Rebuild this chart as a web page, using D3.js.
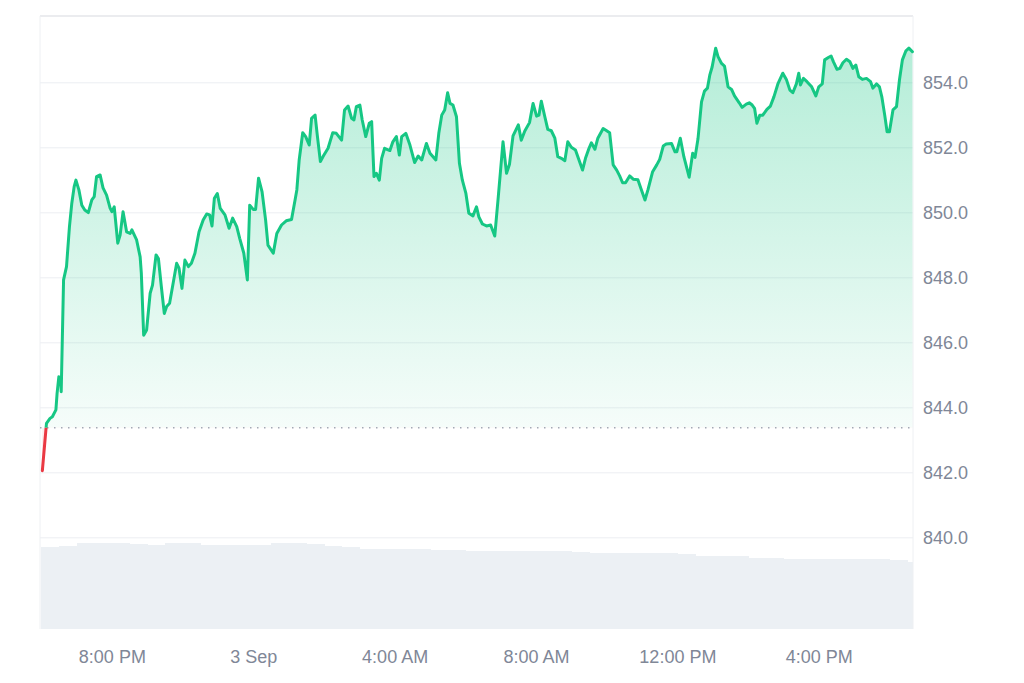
<!DOCTYPE html>
<html>
<head>
<meta charset="utf-8">
<script src="https://cdn.jsdelivr.net/npm/d3@7"></script>
<style>
  html, body { margin: 0; padding: 0; background: #ffffff; }
  svg { display: block; }
  text { font-family: "Liberation Sans", Arial, sans-serif; }
</style>
</head>
<body>
<svg id="chart" width="1024" height="683"></svg>
<script>
// ---------- DATA ----------
// minutes after 18:00 on 2 Sep
const priceMinutes = [2,9,15,19,25,27,30,33,34,38,43,48,52,56,59,64,69,74,80,86,90,94,100,105,111,117,120,124,130,134,139,145,151,154,162,168,170,174,179,185,189,195,199,204,209,213,218,224,230,234,239,244,250,255,261,268,275,281,286,290,294,299,304,312,319,325,332,337,344,350,354,360,364,369,375,381,385,394,400,408,416,425,431,434,438,444,449,455,459,465,469,474,479,487,495,501,510,515,521,527,531,535,541,545,551,557,561,565,569,574,578,583,592,597,603,608,612,619,626,634,640,646,654,660,670,675,680,685,690,694,699,705,710,715,721,726,733,739,743,749,756,763,770,776,784,790,795,801,810,815,821,829,835,841,845,849,855,860,866,872,877,883,889,894,900,907,913,919,924,930,934,940,945,954,960,965,971,977,982,987,992,999,1005,1013,1019,1025,1030,1038,1045,1050,1056,1061,1070,1076,1079,1085,1091,1100,1106,1110,1115,1121,1126,1131,1135,1139,1145,1149,1155,1160,1166,1172,1177,1185,1190,1197,1202,1207,1211,1215,1220,1225,1232,1238,1244,1251,1259,1265,1271,1276,1282,1286,1289,1294,1300,1308,1315,1320,1326,1330,1337,1341,1345,1351,1356,1361,1367,1373,1378,1383,1388,1394,1401,1408,1412,1418,1423,1427,1432,1436,1440,1446,1452,1457,1462,1468,1473,1479];
const prices = [842.05,843.51,843.66,843.71,843.92,844.43,844.94,844.89,844.48,847.92,848.33,849.56,850.28,850.79,850.99,850.69,850.22,850.07,849.99,850.38,850.48,851.10,851.15,850.75,850.53,850.13,850.02,850.17,849.05,849.30,850.02,849.40,849.35,849.46,849.15,848.63,848.13,846.22,846.38,847.51,847.76,848.69,848.58,847.71,846.89,847.10,847.20,847.82,848.43,848.28,847.66,848.53,848.33,848.43,848.74,849.40,849.76,849.95,849.92,849.58,850.43,850.58,850.12,849.92,849.51,849.82,849.56,849.20,848.74,847.92,850.22,850.09,850.09,851.05,850.63,849.76,848.99,848.74,849.35,849.61,849.74,849.78,850.38,850.69,851.61,852.45,852.33,852.07,852.89,852.99,852.33,851.56,851.73,851.97,852.45,852.43,852.22,853.15,853.27,852.89,852.84,853.25,853.30,852.84,852.33,852.74,852.79,851.10,851.20,850.99,851.66,851.97,851.90,852.17,852.33,851.76,852.33,852.43,852.07,851.53,851.73,851.61,852.12,851.82,851.61,852.43,852.99,853.15,853.68,853.35,853.30,852.94,851.51,850.99,850.58,849.97,849.89,850.17,849.86,849.64,849.58,849.61,849.27,850.48,852.17,851.20,851.48,852.35,852.69,852.22,852.50,852.76,853.35,852.96,852.99,853.42,852.94,852.55,852.51,852.28,851.71,851.66,851.59,852.17,852.00,851.92,851.61,851.30,851.66,851.97,852.14,851.94,852.28,852.58,852.51,852.45,851.46,851.30,851.12,850.91,850.91,851.12,851.02,851.00,850.69,850.38,850.69,851.25,851.46,851.63,852.04,852.10,852.12,851.86,851.86,852.28,851.71,851.08,851.82,851.69,852.26,853.40,853.73,853.82,854.22,854.47,855.05,854.79,854.58,854.50,853.86,853.78,853.58,853.37,853.23,853.33,853.37,853.30,853.20,852.74,852.99,852.99,853.17,853.27,853.56,853.97,854.28,854.09,853.76,853.68,853.95,854.28,853.92,854.12,854.02,853.86,853.58,853.86,853.95,854.69,854.77,854.81,854.63,854.40,854.43,854.60,854.71,854.63,854.43,854.53,854.17,854.09,854.12,854.02,853.82,853.95,853.86,853.56,852.99,852.48,852.48,853.15,853.25,854.07,854.69,854.97,855.05,854.94];
const openPrice = 843.37;

// volume, one value per 30 minutes starting 18:00 on 2 Sep (millions)
const volumeValues = [820,833,857,857,857,855,840,860,860,840,840,840,840,857,857,850,830,823,805,800,800,800,790,790,785,780,780,780,780,780,770,757,757,757,757,757,755,733,733,730,713,710,700,700,700,700,700,700,690,670];

const xTickMinutes = [120, 360, 600, 840, 1080, 1320];
const xTickLabels = ["8:00 PM", "3 Sep", "4:00 AM", "8:00 AM", "12:00 PM", "4:00 PM"];
const yTicks = [840, 842, 844, 846, 848, 850, 852, 854];

// ---------- SETUP ----------
const base = new Date(2024, 8, 2, 18, 0, 0);
const t = m => d3.timeMinute.offset(base, m);
const data = priceMinutes.map((m, i) => ({ date: t(m), value: prices[i] }));

const L = 40, R = 913, T = 16, B = 629;
const svg = d3.select("#chart");

const x = d3.scaleTime().domain([t(-2), t(1480)]).range([L, R]);
const y = d3.scaleLinear().domain([837.18, 856.04]).range([B, T]);
const yv = d3.scaleLinear().domain([0, 1000]).range([B, B - 100]);

const defs = svg.append("defs");
defs.append("clipPath").attr("id", "plotClip")
  .append("rect").attr("x", L).attr("y", T).attr("width", R - L).attr("height", B - T);
defs.append("clipPath").attr("id", "aboveClip")
  .append("rect").attr("x", L).attr("y", T - 10).attr("width", R - L + 5).attr("height", y(openPrice) - T + 10);
defs.append("clipPath").attr("id", "belowClip")
  .append("rect").attr("x", L).attr("y", y(openPrice)).attr("width", R - L + 5).attr("height", B - y(openPrice));

const gG = defs.append("linearGradient").attr("id", "gGreen")
  .attr("gradientUnits", "userSpaceOnUse").attr("x1", 0).attr("x2", 0)
  .attr("y1", y(d3.max(prices))).attr("y2", y(openPrice));
gG.append("stop").attr("offset", "0%").attr("stop-color", "#16c784").attr("stop-opacity", 0.32);
gG.append("stop").attr("offset", "100%").attr("stop-color", "#16c784").attr("stop-opacity", 0.04);

const gR = defs.append("linearGradient").attr("id", "gRed")
  .attr("gradientUnits", "userSpaceOnUse").attr("x1", 0).attr("x2", 0)
  .attr("y1", y(openPrice)).attr("y2", y(d3.min(prices)));
gR.append("stop").attr("offset", "0%").attr("stop-color", "#ea3943").attr("stop-opacity", 0.08);
gR.append("stop").attr("offset", "100%").attr("stop-color", "#ea3943").attr("stop-opacity", 0.3);

// ---------- VOLUME ----------
svg.append("g").attr("clip-path", "url(#plotClip)").attr("shape-rendering", "crispEdges")
  .selectAll("rect").data(volumeValues).join("rect")
  .attr("x", (d, i) => x(t(i * 30)))
  .attr("width", (d, i) => x(t(i * 30 + 30)) - x(t(i * 30)) + 0.6)
  .attr("y", d => yv(d))
  .attr("height", d => B - yv(d))
  .attr("fill", "#ecf0f4");

// ---------- GRID + Y AXIS ----------
const yAxis = d3.axisRight(y).tickValues(yTicks)
  .tickFormat(d3.format(".1f")).tickSize(-(R - L)).tickPadding(10);
const yg = svg.append("g").attr("transform", `translate(${R},0)`).call(yAxis);
yg.select(".domain").remove();
yg.selectAll(".tick line").attr("stroke", "#eceef2").attr("stroke-width", 1);
yg.selectAll(".tick text").attr("fill", "#808797").attr("font-size", 18)
  .attr("font-family", "'Liberation Sans', Arial, sans-serif");

// borders
svg.append("line").attr("x1", L).attr("x2", R).attr("y1", T).attr("y2", T)
  .attr("stroke", "#e4e6ea").attr("stroke-width", 1.5);
svg.append("line").attr("x1", L).attr("x2", L).attr("y1", T).attr("y2", B)
  .attr("stroke", "#eef0f3").attr("stroke-width", 1);
svg.append("line").attr("x1", R).attr("x2", R).attr("y1", T).attr("y2", B)
  .attr("stroke", "#eef0f3").attr("stroke-width", 1);

// ---------- AREA + LINE ----------
const area = d3.area().x(d => x(d.date)).y0(y(openPrice)).y1(d => y(d.value));
const line = d3.line().x(d => x(d.date)).y(d => y(d.value));

svg.append("path").datum(data).attr("d", area)
  .attr("fill", "url(#gGreen)").attr("clip-path", "url(#aboveClip)");
svg.append("path").datum(data).attr("d", area)
  .attr("fill", "url(#gRed)").attr("clip-path", "url(#belowClip)");

// baseline (open price)
svg.append("line").attr("x1", L).attr("x2", R)
  .attr("y1", y(openPrice)).attr("y2", y(openPrice))
  .attr("stroke", "#a3a9b5").attr("stroke-width", 1.5)
  .attr("stroke-dasharray", "1.5,5.5");

svg.append("path").datum(data).attr("d", line)
  .attr("fill", "none").attr("stroke", "#16c784").attr("stroke-width", 3)
  .attr("stroke-linejoin", "round").attr("stroke-linecap", "round")
  .attr("clip-path", "url(#aboveClip)");
svg.append("path").datum(data).attr("d", line)
  .attr("fill", "none").attr("stroke", "#ea3943").attr("stroke-width", 3)
  .attr("stroke-linejoin", "round").attr("stroke-linecap", "round")
  .attr("clip-path", "url(#belowClip)");

// ---------- X AXIS ----------
const xAxis = d3.axisBottom(x).tickValues(xTickMinutes.map(t))
  .tickFormat((d, i) => xTickLabels[i]).tickSize(0).tickPadding(21);
const xg = svg.append("g").attr("transform", `translate(0,${B})`).call(xAxis);
xg.select(".domain").remove();
xg.selectAll(".tick text").attr("fill", "#808797").attr("font-size", 18)
  .attr("font-family", "'Liberation Sans', Arial, sans-serif");
</script>
</body>
</html>
